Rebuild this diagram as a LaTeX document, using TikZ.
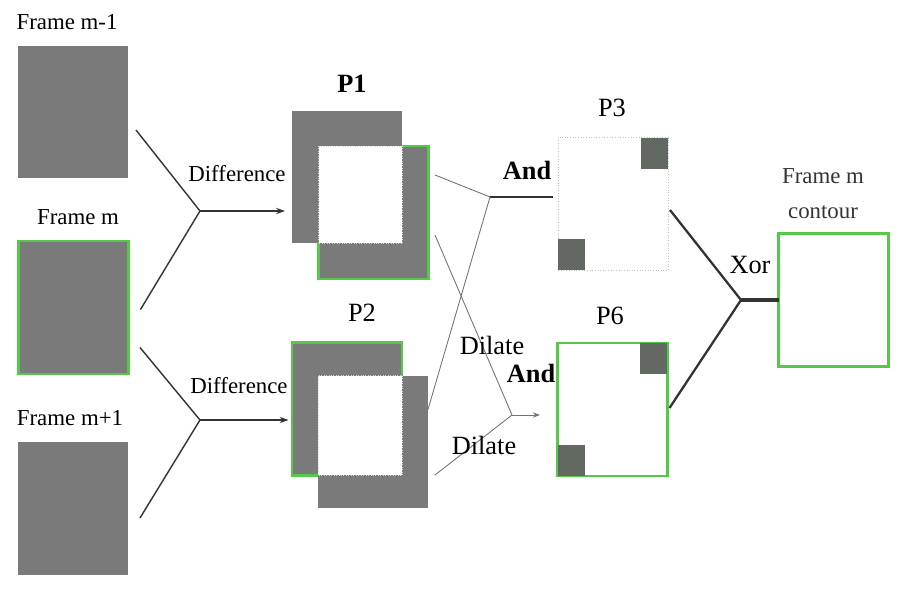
\documentclass[tikz,border=0pt]{standalone}
\usepackage{fontspec}
\setmainfont{Liberation Serif}
\usetikzlibrary{arrows.meta, positioning, calc}
\definecolor{framegray}{RGB}{122, 122, 122}
\definecolor{edgegreen}{RGB}{85, 200, 75}
\definecolor{patchgray}{RGB}{98, 104, 98}
\tikzset{
    framebox/.style={rectangle, fill=framegray, minimum width=2.2cm, minimum height=2.66cm, inner sep=0pt, outer sep=0pt},
    greenbox/.style={framebox, draw=edgegreen, line width=1.2pt},
    patch/.style={rectangle, fill=patchgray, minimum width=0.54cm, minimum height=0.62cm, inner sep=0pt},
    link/.style={draw, black!80, line width=0.8pt},
    dilateline/.style={draw, black!55, line width=0.5pt},
    flow/.style={link, -{Stealth[length=5pt, width=3.5pt]}},
    txt/.style={font=\fontsize{13}{15}\selectfont},
    optxt/.style={font=\fontsize{15}{17}\selectfont},
    boldtxt/.style={font=\fontsize{15}{17}\selectfont\bfseries}
}
\begin{document}
\begin{tikzpicture}[x=0.02cm, y=-0.02cm]
    \useasboundingbox (0,0) rectangle (910,594);

    % Input frames
    \node[framebox] (fm1) at (73,112) {};
    \node[greenbox] (fm) at (73.5,307.5) {};
    \node[framebox] (fp1) at (73,508.5) {};
    \node[txt] at (67,22) {Frame m-1};
    \node[txt] at (78,217) {Frame m};
    \node[txt] at (70,418) {Frame m+1};

    % P1 and P2
    \node[greenbox] (p1b) at (373.5,212.5) {};
    \node[framebox] (p1a) at (347,177) {};
    \draw[white!70!gray, densely dotted, fill=white] (p1b.north west) rectangle (p1a.south east);
    \node[greenbox] (p2a) at (347,409) {};
    \node[framebox] (p2b) at (373,442) {};
    \draw[white!70!gray, densely dotted, fill=white] (p2b.north west) rectangle (p2a.south east);
    \node[boldtxt] at (352,84) {P1};
    \node[optxt] at (362,313) {P2};

    % P3 and P6
    \node[framebox, fill=white, draw=black!25, densely dotted, line width=0.5pt] (p3) at (613,204) {};
    \node[patch, anchor=north east] (p3tr) at (p3.north east) {};
    \node[patch, anchor=south west] (p3bl) at (p3.south west) {};
    \node[greenbox, fill=white] (p6) at (612.5,409.5) {};
    \node[patch, anchor=north east] (p6tr) at (p6.north east) {};
    \node[patch, anchor=south west] (p6bl) at (p6.south west) {};
    \node[optxt] at (612,108) {P3};
    \node[optxt] at (610,316) {P6};

    % Contour
    \node[greenbox, fill=white] (cont) at (833.5,300) {};
    \node[txt, black!80, align=center] at (823,194) {Frame m\\[5pt]contour};

    % Junctions
    \coordinate (j1) at (200,211);
    \coordinate (j2) at (200,420);
    \coordinate (a1) at (490,197);
    \coordinate (a2) at (512,415);
    \coordinate (x1) at (741,300);

    % Difference
    \draw[link] ([shift={(8,18)}]fm1.east) -- (j1) -- ([shift={(12,2)}]fm.east);
    \draw[flow, shorten >=4] (j1) -- (j1 -| p1a.west);
    \draw[link] ([shift={(11.5,-26.5)}]fm.south east) -- (j2) -- ([shift={(12,9.5)}]fp1.east);
    \draw[flow, shorten >=2] (j2) -- (j2 -| p2a.west);
    \node[txt] at (237,174) {Difference};
    \node[txt] at (239,386) {Difference};

    % And / Dilate
    \draw[dilateline] ([shift={(6.5,-37.5)}]p1b.east) -- (a1) -- ([shift={(0,34)}]p2b.north east);
    \draw[link, line width=1.2pt, shorten >=3] (a1) -- (a1 -| p3.west);
    \draw[dilateline] ([shift={(6.5,22.5)}]p1b.east) -- (a2) -- ([shift={(7,33)}]p2b.east);
    \draw[dilateline, -{Stealth[length=4pt, width=3pt]}, shorten >=10] (a2) -- (a2 -| p6.west);
    \node[boldtxt] at (527,170) {And};
    \node[boldtxt] at (531,373) {And};
    \node[optxt] at (492,345) {Dilate};
    \node[optxt] at (484,445) {Dilate};

    % Xor
    \draw[link, line width=1.3pt] ([shift={(2,6)}]p3.east) -- (x1) -- ([shift={(2,-1.5)}]p6.east);
    \draw[link, line width=2pt] (x1) -- (cont.west);
    \node[optxt] at (750,265) {Xor};

\end{tikzpicture}
\end{document}
